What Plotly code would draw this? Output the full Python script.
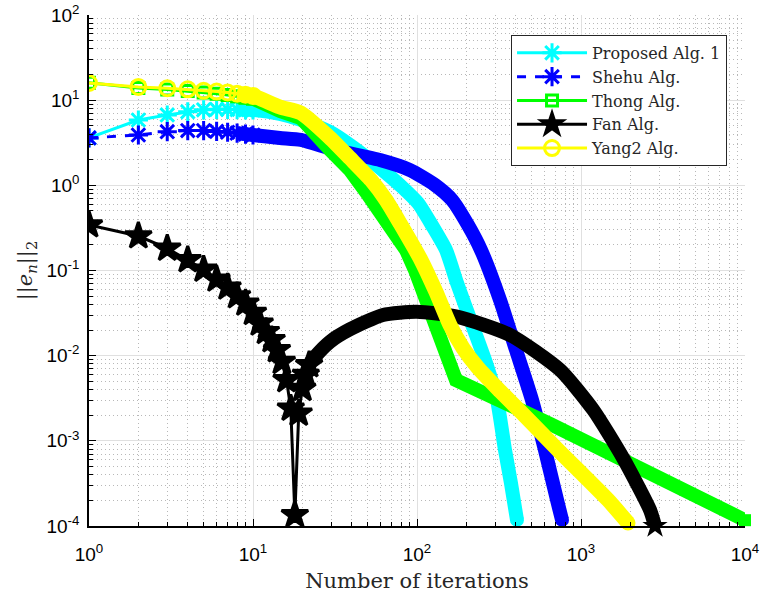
import plotly.graph_objects as go

# ---------------- data ----------------
# Proposed Alg. 1 (cyan)
prop_n_early = [1, 2, 3, 4, 5, 6, 7, 8, 9, 10]
prop_v_early = [3.6, 5.85, 6.7, 7.3, 7.7, 7.8, 7.8, 7.75, 7.7, 7.67]
prop_n_band = [8, 10, 14.6, 19.6, 29.5, 39.0, 51.7, 63.8, 81.0, 101.4, 125.2, 150.3, 175.4,
               219.5, 263.5, 307.5, 344, 374, 407]
prop_v_band = [7.75, 7.67, 6.88, 5.85, 4.23, 2.98, 1.98, 1.43, 0.956, 0.620, 0.324, 0.174,
               0.0713, 0.0217, 8.2e-3, 3.02e-3, 7.8e-4, 3.2e-4, 1.18e-4]

# Shehu Alg. (blue)
shehu_n_early = [1, 2, 3, 4, 5, 6, 7, 8, 9, 10]
shehu_v_early = [3.6, 3.9, 4.27, 4.4, 4.4, 4.3, 4.2, 4.1, 4.0, 3.9]
shehu_n_band = [8, 10, 14.6, 19.6, 31.6, 59.5, 90.7, 128.8, 163.5, 204.6, 245.6, 320.8,
                401.5, 502.6, 603, 714, 766]
shehu_v_band = [4.1, 3.9, 3.6, 3.41, 2.60, 1.98, 1.51, 1.01, 0.673, 0.342, 0.174, 0.0451,
                0.01167, 3.02e-3, 7.82e-4, 2.02e-4, 1.18e-4]

# Thong Alg. (green)
thong_n_early = [1, 2, 3, 4, 5, 6, 7, 8, 9, 10]
thong_v_early = [16.0, 13.9, 13.3, 12.8, 12.3, 11.9, 11.5, 11.1, 10.7, 10.4]
thong_n_band = [8, 10, 14.6, 19.6, 29.5, 39.0, 50.3, 67.5, 85.7, 97.2, 115, 132.4, 154.5,
                172.9, 647, 10000]
thong_v_band = [11.1, 10.4, 7.46, 6.17, 2.6, 1.51, 0.770, 0.324, 0.174, 0.101, 0.0450,
                0.0229, 0.01105, 5.18e-3, 1.58e-3, 1.17e-4]

# Fan Alg. (black)
fan_n_early = list(range(1, 23))
fan_v_early = [0.342, 0.254, 0.182, 0.133, 0.103, 0.0788, 0.0635, 0.0502, 0.0412, 0.032,
               0.024, 0.0191, 0.0153, 0.0117, 8.5e-3, 5.2e-3, 2.4e-3, 1.35e-4, 2.1e-3, 4.1e-3,
               6.0e-3, 7.8e-3]
fan_n_band = [20, 21, 22, 24, 29.5, 39, 62, 99.5, 175, 369, 745, 1189, 1811, 2636, 2827]
fan_v_band = [4.1e-3, 6.0e-3, 7.8e-3, 9.8e-3, 0.0146, 0.0204, 0.030, 0.0328, 0.0287, 0.0175,
              6.8e-3, 2.3e-3, 6.2e-4, 1.54e-4, 1.0e-4]

# Yang2 Alg. (yellow)
yang_n_early = [1, 2, 3, 4, 5, 6, 7, 8, 9, 10]
yang_v_early = [15.9, 14.3, 13.8, 13.4, 12.9, 12.6, 12.3, 11.9, 11.6, 11.2]
yang_n_band = [8, 10, 14.6, 19.6, 29.5, 39.0, 52.4, 64.7, 79.9, 105.7, 130.6, 158.9, 190.8,
               235.6, 320.8, 436.6, 724, 1461, 1935]
yang_v_band = [11.9, 11.2, 8.32, 7.07, 3.60, 2.09, 1.155, 0.673, 0.342, 0.133, 0.0559,
               0.0229, 0.0123, 7.2e-3, 3.85e-3, 2.12e-3, 7.82e-4, 2.02e-4, 1.085e-4]

x_tickvals = [1, 10, 100, 1000, 10000]
x_ticktext = ["10<sup>0</sup>", "10<sup>1</sup>", "10<sup>2</sup>", "10<sup>3</sup>", "10<sup>4</sup>"]
y_tickvals = [1e-4, 1e-3, 1e-2, 1e-1, 1, 10, 100]
y_ticktext = ["10<sup>-4</sup>", "10<sup>-3</sup>", "10<sup>-2</sup>", "10<sup>-1</sup>",
              "10<sup>0</sup>", "10<sup>1</sup>", "10<sup>2</sup>"]

x_label = "Number of iterations"
y_label = "||<i>e</i><sub><i>n</i></sub>||<sub>2</sub>"

# ---------------- figure ----------------
fig = go.Figure()

series = [
    ("Proposed Alg. 1", "#00FFFF", prop_n_early, prop_v_early, prop_n_band, prop_v_band,
     "asterisk-open", 16, "solid", "circle", 14, 14, True),
    ("Shehu Alg.", "#0000FF", shehu_n_early, shehu_v_early, shehu_n_band, shehu_v_band,
     "asterisk-open", 16, "dash", "circle", 14, 14, True),
    ("Thong Alg.", "#00FF00", thong_n_early, thong_v_early, thong_n_band, thong_v_band,
     "square-open", 11, "solid", "square", 12, 14, False),
    ("Fan Alg.", "#000000", fan_n_early, fan_v_early, fan_n_band, fan_v_band,
     "star", 20, "solid", "star", 19, 14, True),
    ("Yang2 Alg.", "#FFFF00", yang_n_early, yang_v_early, yang_n_band, yang_v_band,
     "circle-open", 15, "solid", "circle", 15, 15, True),
]

for name, col, ne, ve, nb, vb, sym, ms, dash, endsym, endsize, bw, spline in series:
    fig.add_trace(go.Scatter(
        x=nb, y=vb, mode="lines", showlegend=False, hoverinfo="skip",
        line=dict(color=col, width=bw, shape="spline" if spline else "linear", smoothing=0.6),
    ))
    fig.add_trace(go.Scatter(
        x=[nb[-1]], y=[vb[-1]], mode="markers", showlegend=False, hoverinfo="skip",
        cliponaxis=False,
        marker=dict(symbol=endsym, size=endsize, color=col, line=dict(width=0)),
    ))
    fig.add_trace(go.Scatter(
        x=ne, y=ve, mode="lines+markers", name=name,
        line=dict(color=col, width=3, dash=dash),
        marker=dict(symbol=sym, size=ms, color=col, line=dict(color=col, width=3)),
    ))

axis_common = dict(
    type="log",
    showgrid=True,
    gridcolor="#e0e0e0",
    gridwidth=1,
    ticks="inside",
    ticklen=7,
    tickcolor="black",
    tickwidth=1,
    showline=True,
    linecolor="black",
    linewidth=1.5,
    zeroline=False,
    mirror=False,
    automargin=False,
    tickfont=dict(family="Liberation Sans", size=19, color="black"),
    minor=dict(dtick="D1", showgrid=True, gridcolor="#b8b8b8", griddash="1px,3px",
               gridwidth=1, ticks="inside", ticklen=4, tickcolor="black"),
)

fig.update_xaxes(**axis_common, range=[0, 4], tickvals=x_tickvals, ticktext=x_ticktext,
                 ticklabelstandoff=10,
                 title=dict(text=x_label, standoff=10,
                            font=dict(family="DejaVu Serif", size=21, color="#262626")))
fig.update_yaxes(**axis_common, range=[-4, 2], tickvals=y_tickvals, ticktext=y_ticktext,
                 ticklabelstandoff=4,
                 title=dict(text=y_label, standoff=8,
                            font=dict(family="DejaVu Serif", size=21, color="#262626")))

fig.update_layout(
    width=763, height=601,
    margin=dict(l=89, r=18, t=15, b=75),
    paper_bgcolor="white",
    plot_bgcolor="white",
    legend=dict(
        x=0.9726, xanchor="right", y=0.961, yanchor="top",
        bgcolor="white", bordercolor="#262626", borderwidth=1,
        font=dict(family="DejaVu Serif", size=16, color="#262626"),
        itemwidth=70, tracegroupgap=0,
    ),
)

fig.write_html("out.html")
